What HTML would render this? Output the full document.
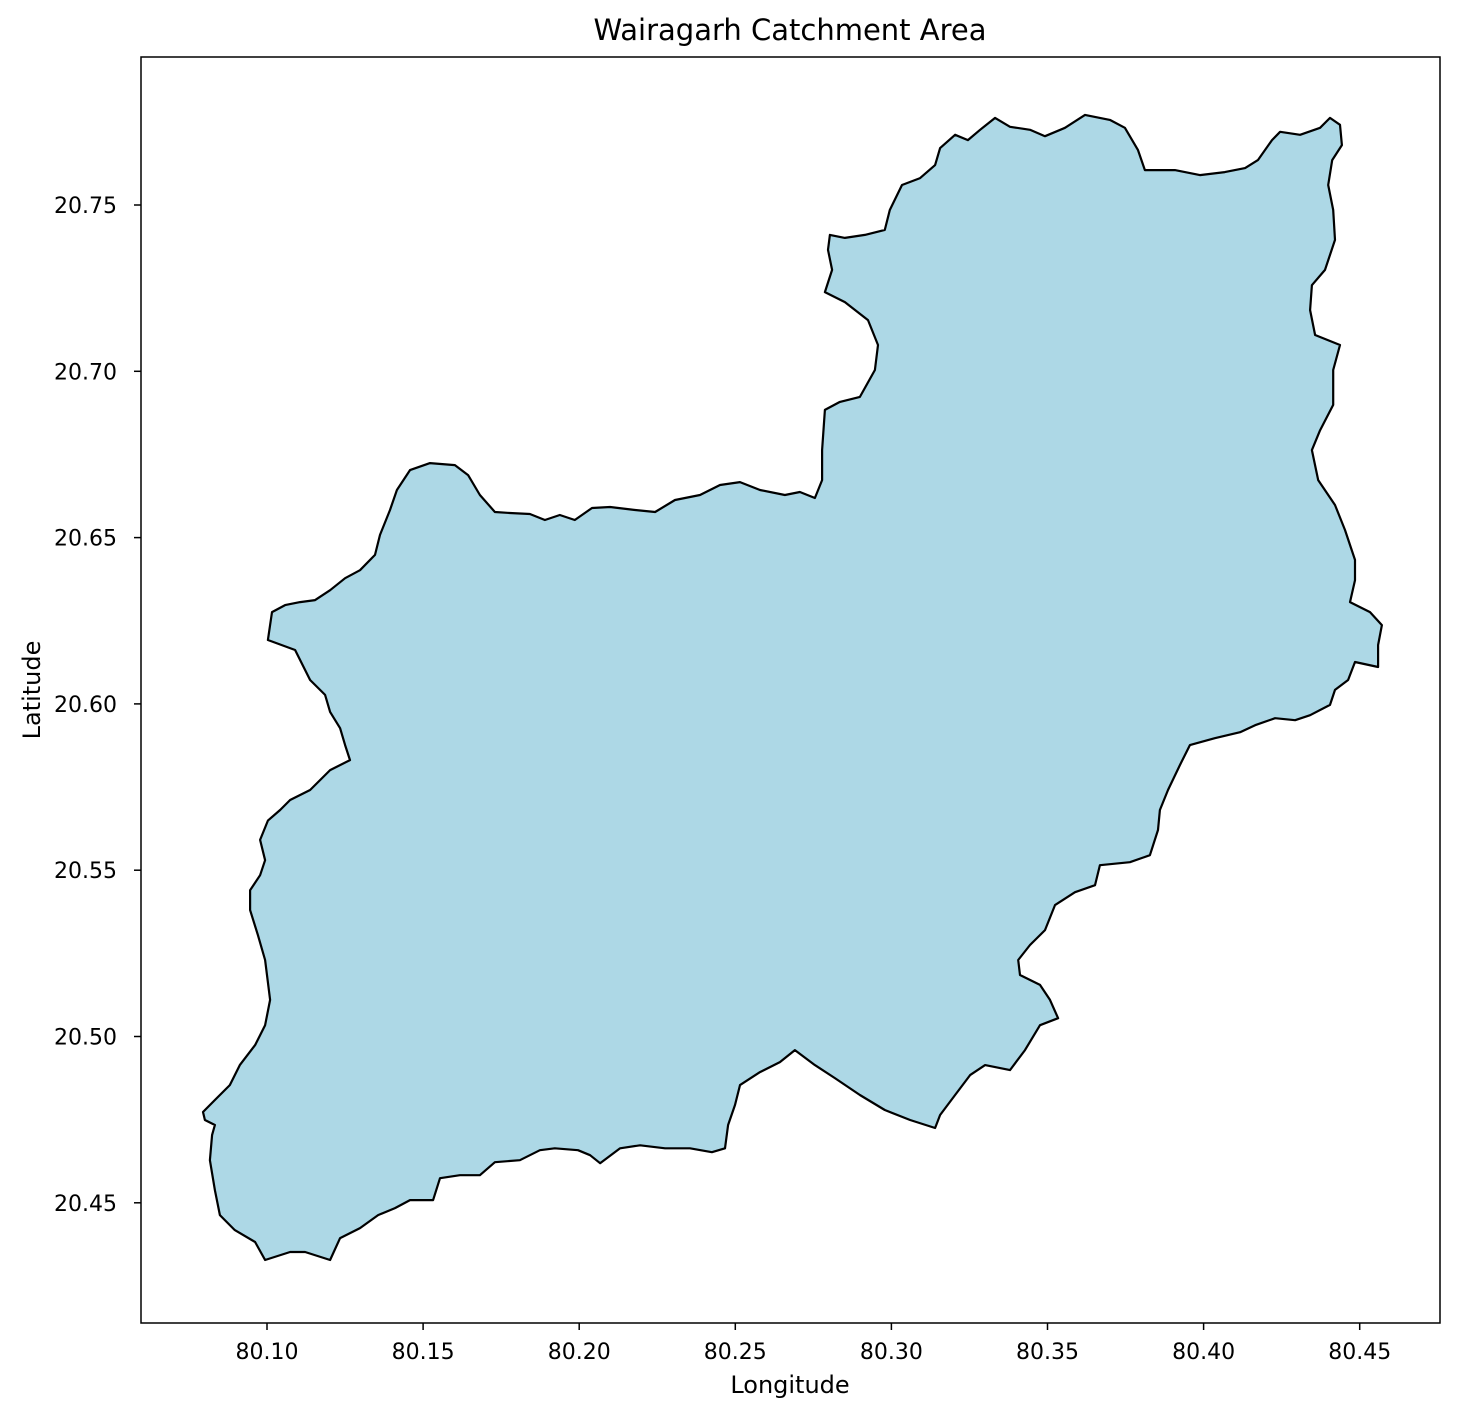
<!DOCTYPE html>
<html><head><meta charset="utf-8"><style>
body{margin:0;background:#fff;font-family:"DejaVu Sans",sans-serif}
</style></head><body>
<svg id="chart" width="1458" height="1417" xmlns="http://www.w3.org/2000/svg">
<text x="790" y="40" text-anchor="middle" font-size="29" font-family="DejaVu Sans,sans-serif">Wairagarh Catchment Area</text>
<g id="plot"></g>
<rect x="141" y="57" width="1299" height="1266" fill="none" stroke="#000" stroke-width="1.5"/>
<g id="ticks"></g>
<text x="790" y="1393" text-anchor="middle" font-size="24" font-family="DejaVu Sans,sans-serif">Longitude</text>
<text transform="translate(40,690) rotate(-90)" text-anchor="middle" font-size="24" font-family="DejaVu Sans,sans-serif">Latitude</text>
</svg>
<script>
const lons=[80.1003,80.1016,80.1058,80.1106,80.1154,80.1202,80.1250,80.1298,80.1346,80.1362,80.1394,80.1416,80.1458,80.1522,80.1602,80.1644,80.1682,80.1730,80.1778,80.1842,80.1890,80.1938,80.1986,80.2041,80.2099,80.2179,80.2243,80.2307,80.2387,80.2451,80.2515,80.2579,80.2659,80.2707,80.2755,80.2778,80.2778,80.2787,80.2835,80.2899,80.2947,80.2957,80.2925,80.2851,80.2787,80.2810,80.2797,80.2803,80.2851,80.2915,80.2979,80.2995,80.3034,80.3092,80.3140,80.3156,80.3204,80.3245,80.3284,80.3332,80.3380,80.3444,80.3492,80.3556,80.3620,80.3700,80.3748,80.3790,80.3812,80.3908,80.3988,80.4068,80.4133,80.4174,80.4219,80.4245,80.4309,80.4373,80.4405,80.4437,80.4443,80.4412,80.4399,80.4415,80.4421,80.4389,80.4347,80.4341,80.4357,80.4437,80.4415,80.4415,80.4373,80.4347,80.4367,80.4421,80.4453,80.4485,80.4485,80.4469,80.4533,80.4571,80.4559,80.4559,80.4485,80.4463,80.4421,80.4405,80.4341,80.4293,80.4229,80.4165,80.4117,80.4036,80.3956,80.3924,80.3886,80.3860,80.3854,80.3828,80.3764,80.3668,80.3652,80.3588,80.3524,80.3492,80.3444,80.3406,80.3412,80.3476,80.3508,80.3534,80.3476,80.3428,80.3380,80.3300,80.3252,80.3204,80.3156,80.3140,80.3060,80.2979,80.2899,80.2819,80.2755,80.2691,80.2643,80.2579,80.2515,80.2499,80.2477,80.2467,80.2425,80.2355,80.2275,80.2195,80.2131,80.2067,80.2035,80.1996,80.1922,80.1874,80.1810,80.1730,80.1682,80.1618,80.1554,80.1532,80.1458,80.1410,80.1356,80.1298,80.1234,80.1202,80.1122,80.1074,80.0994,80.0962,80.0897,80.0849,80.0833,80.0817,80.0824,80.0833,80.0801,80.0795,80.0833,80.0881,80.0913,80.0962,80.0994,80.1010,80.0994,80.0971,80.0946,80.0946,80.0978,80.0994,80.0978,80.1003,80.1042,80.1074,80.1138,80.1202,80.1266,80.1250,80.1234,80.1202,80.1186,80.1138,80.1090,80.1058];
const lats=[20.6192,20.6276,20.6297,20.6306,20.6312,20.6342,20.6378,20.6402,20.6448,20.6508,20.6583,20.6643,20.6703,20.6724,20.6718,20.6688,20.6628,20.6577,20.6574,20.6571,20.6553,20.6568,20.6553,20.6589,20.6592,20.6583,20.6577,20.6613,20.6628,20.6658,20.6667,20.6643,20.6628,20.6637,20.6619,20.6673,20.6763,20.6884,20.6908,20.6923,20.7004,20.7079,20.7154,20.7208,20.7238,20.7305,20.7365,20.7410,20.7401,20.7410,20.7425,20.7485,20.7560,20.7581,20.7620,20.7671,20.7711,20.7695,20.7726,20.7762,20.7735,20.7726,20.7707,20.7732,20.7771,20.7756,20.7732,20.7665,20.7605,20.7605,20.7590,20.7599,20.7611,20.7635,20.7695,20.7720,20.7711,20.7732,20.7762,20.7741,20.7680,20.7635,20.7560,20.7485,20.7395,20.7305,20.7259,20.7184,20.7109,20.7079,20.7004,20.6899,20.6823,20.6763,20.6673,20.6598,20.6523,20.6433,20.6372,20.6306,20.6276,20.6237,20.6177,20.6111,20.6126,20.6072,20.6042,20.5997,20.5966,20.5951,20.5957,20.5936,20.5915,20.5897,20.5876,20.5816,20.5741,20.5681,20.5621,20.5545,20.5524,20.5515,20.5455,20.5434,20.5395,20.5320,20.5275,20.5230,20.5185,20.5155,20.5110,20.5055,20.5034,20.4959,20.4899,20.4914,20.4884,20.4824,20.4764,20.4725,20.4749,20.4779,20.4824,20.4875,20.4914,20.4959,20.4923,20.4893,20.4854,20.4794,20.4734,20.4664,20.4652,20.4664,20.4664,20.4673,20.4664,20.4619,20.4643,20.4658,20.4664,20.4658,20.4628,20.4622,20.4583,20.4583,20.4574,20.4508,20.4508,20.4484,20.4463,20.4424,20.4394,20.4328,20.4352,20.4352,20.4328,20.4382,20.4418,20.4463,20.4538,20.4628,20.4704,20.4734,20.4749,20.4773,20.4809,20.4854,20.4914,20.4974,20.5034,20.5110,20.5230,20.5305,20.5380,20.5440,20.5485,20.5530,20.5591,20.5649,20.5681,20.5711,20.5741,20.5801,20.5831,20.5876,20.5927,20.5976,20.6027,20.6072,20.6162];
const xTicks=[80.10,80.15,80.20,80.25,80.30,80.35,80.40,80.45];
const yTicks=[20.45,20.50,20.55,20.60,20.65,20.70,20.75];
const xScale=v=>267+(v-80.10)/0.05*156.1;
const yScale=v=>205+(20.75-v)/0.05*166.3;
const NS='http://www.w3.org/2000/svg';
const plot=document.getElementById('plot');
const poly=document.createElementNS(NS,'polygon');


poly.setAttribute('points',lons.map((l,i)=>xScale(l).toFixed(1)+','+yScale(lats[i]).toFixed(1)).join(' '));
poly.setAttribute('fill','#add8e6');
poly.setAttribute('stroke','#000');
poly.setAttribute('stroke-width','2.2');
poly.setAttribute('stroke-linejoin','round');
plot.appendChild(poly);
const tg=document.getElementById('ticks');
xTicks.forEach(t=>{
  const x=xScale(t);
  const l=document.createElementNS(NS,'line');
  
  
  l.setAttribute('x1',x);l.setAttribute('x2',x);l.setAttribute('y1',1323);l.setAttribute('y2',1330);
  l.setAttribute('stroke','#000');l.setAttribute('stroke-width','1.5');
  tg.appendChild(l);
  const tx=document.createElementNS(NS,'text');
  
  
  tx.setAttribute('x',x);tx.setAttribute('y',1359);tx.setAttribute('text-anchor','middle');
  tx.setAttribute('font-size','22');tx.setAttribute('font-family','DejaVu Sans,sans-serif');
  tx.textContent=t.toFixed(2);
  tg.appendChild(tx);
});
yTicks.forEach(t=>{
  const y=yScale(t);
  const l=document.createElementNS(NS,'line');
  
  
  l.setAttribute('x1',134);l.setAttribute('x2',141);l.setAttribute('y1',y);l.setAttribute('y2',y);
  l.setAttribute('stroke','#000');l.setAttribute('stroke-width','1.5');
  tg.appendChild(l);
  const tx=document.createElementNS(NS,'text');
  
  
  tx.setAttribute('x',117);tx.setAttribute('y',y+8);tx.setAttribute('text-anchor','end');
  tx.setAttribute('font-size','22');tx.setAttribute('font-family','DejaVu Sans,sans-serif');
  tx.textContent=t.toFixed(2);
  tg.appendChild(tx);
});
</script>
</body></html>
